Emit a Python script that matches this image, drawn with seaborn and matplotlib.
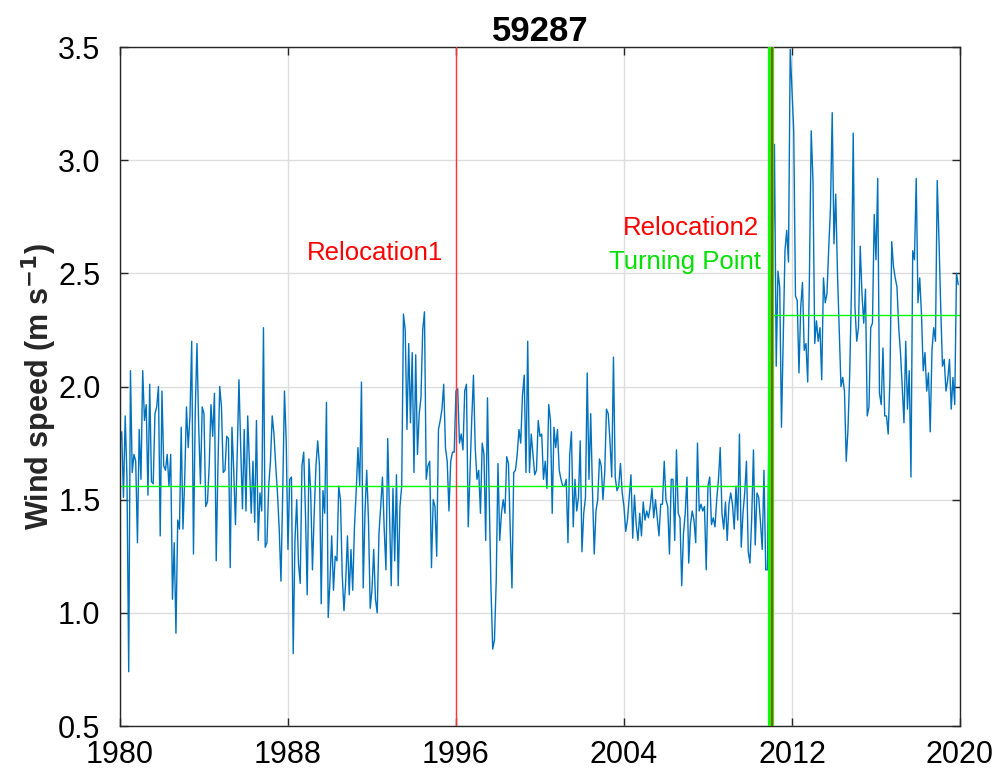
import numpy as np
import pandas as pd
import matplotlib
matplotlib.use('Agg')
import matplotlib.pyplot as plt
import seaborn as sns

# monthly mean wind speed (m/s), station 59287 in 5-year blocks
wind_1980_1984 = [1.75, 1.80, 1.51, 1.87, 1.60, 0.74, 2.07, 1.62, 1.70, 1.67,
                  1.31, 1.81, 1.59, 2.07, 1.85, 1.92, 1.52, 2.01, 1.58, 1.57,
                  1.88, 1.91, 2.00, 1.34, 1.98, 1.65, 1.63, 1.70, 1.56, 1.70,
                  1.06, 1.31, 0.91, 1.41, 1.37, 1.82, 1.37, 1.59, 1.91, 1.73,
                  1.87, 2.20, 1.26, 1.88, 2.19, 1.82, 1.57, 1.91, 1.88, 1.47,
                  1.49, 1.65, 1.92, 1.78, 1.97, 1.23, 1.65, 2.00, 1.91, 1.62]
wind_1985_1989 = [1.63, 1.78, 1.77, 1.20, 1.82, 1.63, 1.39, 1.70, 2.03, 1.73,
                  1.46, 1.81, 1.45, 1.87, 1.65, 1.44, 1.67, 1.40, 1.85, 1.32,
                  1.53, 1.45, 2.26, 1.29, 1.31, 1.56, 1.67, 1.87, 1.79, 1.65,
                  1.53, 1.37, 1.14, 1.53, 1.98, 1.76, 1.28, 1.59, 1.60, 0.82,
                  1.32, 1.50, 1.22, 1.13, 1.65, 1.71, 1.44, 1.08, 1.68, 1.53,
                  1.19, 1.44, 1.65, 1.76, 1.65, 1.04, 1.54, 1.44, 1.93, 0.98]
wind_1990_1994 = [1.14, 1.34, 1.10, 1.25, 1.23, 1.56, 1.50, 1.17, 1.01, 1.14,
                  1.34, 1.08, 1.28, 1.10, 1.38, 1.54, 1.73, 1.56, 2.02, 1.11,
                  1.44, 1.63, 1.41, 1.02, 1.10, 1.28, 1.06, 1.00, 1.35, 1.47,
                  1.60, 1.37, 1.19, 1.77, 1.44, 1.12, 1.55, 1.23, 1.61, 1.12,
                  1.47, 1.56, 2.32, 2.25, 1.81, 2.19, 1.84, 2.15, 1.62, 2.14,
                  1.70, 1.88, 1.95, 2.25, 2.33, 1.59, 1.65, 1.67, 1.20, 1.50]
wind_1995_1999 = [1.47, 1.25, 1.81, 1.85, 1.90, 2.01, 1.73, 1.67, 1.45, 1.67,
                  1.71, 1.71, 1.98, 1.99, 1.75, 1.79, 1.72, 1.98, 2.01, 1.38,
                  1.62, 1.85, 2.05, 1.73, 1.59, 1.63, 1.44, 1.75, 1.70, 1.32,
                  1.95, 1.51, 1.11, 0.84, 0.88, 1.14, 1.66, 1.32, 1.44, 1.50,
                  1.44, 1.69, 1.66, 1.37, 1.11, 1.62, 1.63, 1.70, 1.81, 1.75,
                  1.96, 2.05, 1.62, 2.20, 1.62, 1.79, 1.70, 1.61, 1.63, 1.85]
wind_2000_2004 = [1.78, 1.79, 1.59, 1.67, 1.55, 1.92, 1.85, 1.44, 1.82, 1.73,
                  1.81, 1.63, 1.59, 1.56, 1.56, 1.59, 1.31, 1.70, 1.80, 1.38,
                  1.59, 1.45, 1.51, 1.76, 1.27, 1.44, 1.51, 2.06, 1.59, 1.88,
                  1.54, 1.26, 1.45, 1.50, 1.68, 1.65, 1.50, 1.62, 1.90, 1.88,
                  1.76, 1.60, 2.13, 1.60, 1.54, 1.56, 1.66, 1.53, 1.47, 1.36,
                  1.41, 1.51, 1.61, 1.33, 1.52, 1.39, 1.32, 1.44, 1.34, 1.49]
wind_2005_2009 = [1.41, 1.45, 1.42, 1.47, 1.55, 1.42, 1.50, 1.42, 1.34, 1.48,
                  1.48, 1.67, 1.50, 1.47, 1.26, 1.59, 1.59, 1.32, 1.72, 1.44,
                  1.42, 1.12, 1.35, 1.44, 1.60, 1.22, 1.39, 1.45, 1.41, 1.31,
                  1.75, 1.45, 1.48, 1.45, 1.47, 1.19, 1.56, 1.60, 1.39, 1.42,
                  1.38, 1.50, 1.59, 1.73, 1.44, 1.37, 1.49, 1.32, 1.48, 1.53,
                  1.48, 1.37, 1.56, 1.41, 1.79, 1.29, 1.44, 1.53, 1.67, 1.27]
wind_2010_2014 = [1.22, 1.42, 1.72, 1.30, 1.53, 1.51, 1.40, 1.28, 1.63, 1.19,
                  1.19, 1.95, 2.70, 2.45, 3.07, 2.09, 2.51, 2.44, 1.82, 2.20,
                  2.60, 2.69, 2.55, 3.49, 3.31, 3.13, 2.40, 2.38, 2.06, 2.35,
                  2.46, 2.16, 2.19, 2.02, 2.50, 3.13, 2.91, 2.19, 2.29, 2.20,
                  2.26, 2.03, 2.48, 2.37, 2.41, 2.61, 2.79, 3.21, 2.63, 2.85,
                  2.50, 2.25, 2.00, 2.04, 1.98, 1.67, 1.81, 2.06, 2.43, 3.12]
wind_2015_2019 = [2.35, 2.20, 2.26, 2.62, 2.41, 2.28, 2.43, 1.87, 1.91, 2.26,
                  2.28, 2.76, 2.56, 2.92, 1.97, 1.92, 2.17, 1.87, 1.87, 1.79,
                  2.04, 2.64, 2.53, 2.48, 2.44, 2.26, 2.15, 2.00, 1.84, 2.20,
                  1.90, 2.07, 1.60, 2.60, 2.56, 2.92, 2.37, 2.48, 2.32, 2.07,
                  2.15, 1.98, 2.06, 1.80, 2.16, 2.26, 2.20, 2.91, 2.65, 2.35,
                  2.09, 2.12, 1.98, 2.03, 2.12, 1.90, 2.04, 1.92, 2.50, 2.45]

start_year = 1980
end_year = 2020
turning_point = 2011.0
mean_before = 1.56
mean_after = 2.316
relocation1 = 1996.0
relocation2 = 2011.0

wind = np.concatenate([wind_1980_1984, wind_1985_1989, wind_1990_1994, wind_1995_1999,
                       wind_2000_2004, wind_2005_2009, wind_2010_2014, wind_2015_2019])
years = start_year + np.arange(len(wind)) / 12
df = pd.DataFrame({'year': years, 'wind': wind})

seg_df = pd.DataFrame({'year': [start_year, turning_point, turning_point, end_year],
                       'wind': [mean_before, mean_before, mean_after, mean_after],
                       'part': ['before', 'before', 'after', 'after']})

sns.set_theme(style='white')
plt.rcParams['font.family'] = ['Liberation Sans', 'DejaVu Sans']

fig = plt.figure(figsize=(10.03, 7.80), dpi=100)
ax = fig.add_axes([0.1196, 0.0692, 0.8375, 0.8705])

sns.lineplot(data=df, x='year', y='wind', color='#0072BD', linewidth=1.0, ax=ax)
sns.lineplot(data=seg_df, x='year', y='wind', units='part', estimator=None,
             color='#00FF00', linewidth=1.0, ax=ax)

ax.axvline(relocation1, color='#FF3333', linewidth=1.0, zorder=3)
ax.axvline(turning_point, color='#00FF00', linewidth=4.5, zorder=3)
ax.axvline(relocation2 + 0.05, color='#D02A10', linewidth=1.3, zorder=4)

ax.text(relocation1 - 0.6, 2.59, 'Relocation1', color='red', fontsize=18.5,
        ha='right', va='center')
ax.text(relocation2 - 0.55, 2.70, 'Relocation2', color='red', fontsize=18.5,
        ha='right', va='center')
ax.text(relocation2 - 0.5, 2.55, 'Turning Point', color='#00E000', fontsize=18.5,
        ha='right', va='center')

ax.set_xlim(start_year, end_year)
ax.set_ylim(0.5, 3.5)
ax.set_xticks(np.arange(1980, 2021, 8))
ax.set_yticks(np.arange(0.5, 3.51, 0.5))
ax.set_yticklabels([f'{v:.1f}' for v in np.arange(0.5, 3.51, 0.5)])
ax.grid(True, color='#DDDDDD', linewidth=1.0)
ax.tick_params(direction='in', length=6, width=1, labelsize=22, colors='#262626',
               top=True, right=True, bottom=True, left=True)
ax.tick_params(axis='y', pad=14)
ax.tick_params(axis='x', pad=10)
ax.tick_params(labelcolor='black')
for s in ax.spines.values():
    s.set_color('#262626')
    s.set_linewidth(1.0)

ax.set_xlabel('')
ax.set_ylabel('Wind speed (m s$^{\\mathbf{-1}}$)', fontsize=22, fontweight='bold')
ax.yaxis.set_label_coords(-0.072, 0.5)
ax.set_title('59287', fontsize=25, fontweight='bold', color='black', pad=4)

fig.savefig('out.png', dpi=100)
